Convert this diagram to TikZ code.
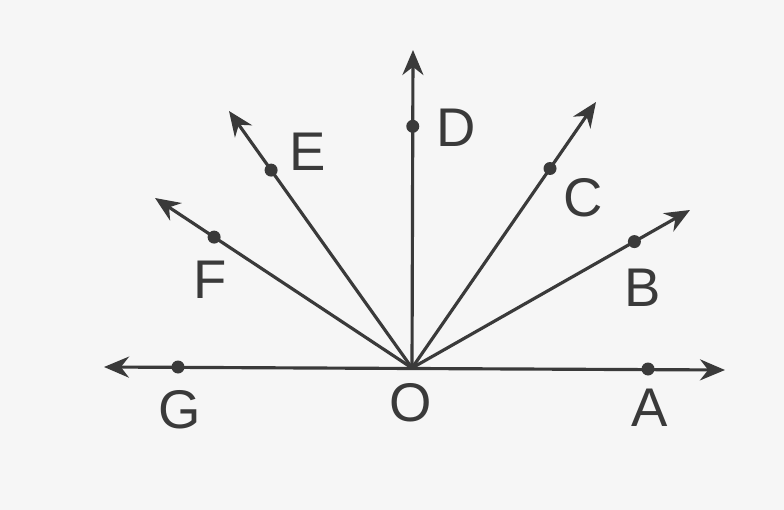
\documentclass[tikz,border=0pt]{standalone}
\usepackage{fontspec}
\setsansfont{Liberation Sans}
\usetikzlibrary{arrows.meta,calc}
\definecolor{ink}{HTML}{3A3A3A}
\definecolor{paper}{HTML}{F6F6F6}
\tikzset{ray/.style={-{Stealth[length=5mm,width=4.2mm]},line width=1.8pt,draw=ink}, both/.style={{Stealth[length=5mm,width=4.2mm]}-{Stealth[length=5mm,width=4.2mm]},line width=1.8pt,draw=ink}, dot/.style={circle,fill=ink,inner sep=0pt,minimum size=2.6mm}, letter/.style={font=\fontsize{31}{36}\selectfont\sffamily,text=ink,inner sep=0pt}}

\begin{document}
\begin{tikzpicture}[x=0.02cm,y=-0.02cm]
\fill[paper] (0,0) rectangle (784,510);
\useasboundingbox (0,0) rectangle (784,510);
\coordinate (O) at (412,368);
\coordinate (tipA) at (725,370);
\coordinate (tipG) at (104,367);
\coordinate (tipB) at (690,210);
\coordinate (tipC) at (596,102);
\coordinate (tipD) at (413,50);
\coordinate (tipE) at (229,111);
\coordinate (tipF) at (155,198);
\draw[both] (tipG)--(tipA);
\draw[ray] (O)--(tipB);
\draw[ray] (O)--(tipC);
\draw[ray] (O)--(tipD);
\draw[ray] (O)--(tipE);
\draw[ray] (O)--(tipF);
\node[dot] (A) at (648,369) {};
\node[dot] (G) at (178,367) {};
\node[dot] (B) at ($(O)!0.8!(tipB)$) {};
\node[dot] (C) at ($(O)!0.75!(tipC)$) {};
\node[dot] (D) at ($(O)!0.76!(tipD)$) {};
\node[dot] (E) at ($(O)!0.77!(tipE)$) {};
\node[dot] (F) at ($(O)!0.77!(tipF)$) {};
\node[letter] (labA) at (650,408) {A};
\node[letter] (labB) at (643,288) {B};
\node[letter] (labC) at (583,198) {C};
\node[letter] (labD) at (456,128) {D};
\node[letter] (labE) at (308,152) {E};
\node[letter] (labF) at (210,280) {F};
\node[letter] (labG) at (180,410) {G};
\node[letter] (labO) at (411,403) {O};
\end{tikzpicture}
\end{document}
